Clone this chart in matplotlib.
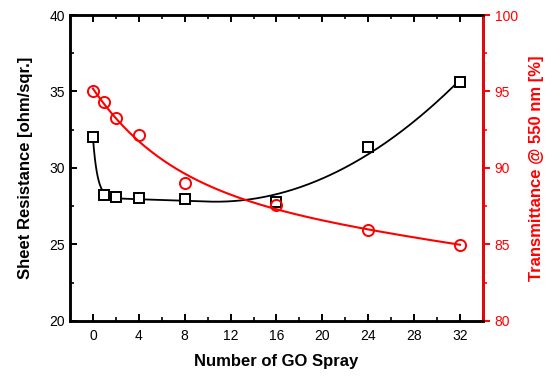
import numpy as np
import matplotlib
matplotlib.use('Agg')
import matplotlib.pyplot as plt
from matplotlib.ticker import MultipleLocator

plt.rcParams['font.family'] = ['Liberation Sans', 'DejaVu Sans']

# data
spray = [0, 1, 2, 4, 8, 16, 24, 32]
sheet_res = [32.0, 28.25, 28.1, 28.05, 27.95, 27.8, 31.4, 35.6]
transmit = [95.0, 94.3, 93.25, 92.15, 89.05, 87.6, 85.95, 84.95]

x = np.array(spray, dtype=float)
xs = np.linspace(0, 32, 400)

# regression spline for sheet resistance: fast decay + truncated quadratic
def basis_r(v):
    knot = np.clip(v - 10, 0, None)
    return np.column_stack([np.ones_like(v), np.exp(-v / 0.4), v, knot ** 2])
coef_r, *_ = np.linalg.lstsq(basis_r(x), np.array(sheet_res), rcond=None)
fit_r = basis_r(xs) @ coef_r

# decay + linear fit for transmittance (grid search on time constant)
best = None
for t in np.linspace(2, 80, 400):
    A = np.column_stack([np.ones_like(x), np.exp(-x / t), x])
    c, *_ = np.linalg.lstsq(A, np.array(transmit), rcond=None)
    err = np.sum((A @ c - transmit) ** 2)
    if best is None or err < best[0]:
        best = (err, t, c)
_, t_best, c_t = best
fit_t = c_t[0] + c_t[1] * np.exp(-xs / t_best) + c_t[2] * xs

fig = plt.figure(figsize=(5.48, 3.76), dpi=100)
ax = fig.add_axes([0.1277, 0.1463, 0.7537, 0.8138])
ax2 = ax.twinx()

ax.plot(xs, fit_r, color='black', lw=1.3)
ax.plot(spray, sheet_res, 's', ms=7, mfc='white', mec='black', mew=1.4, zorder=5)
ax2.plot(xs, fit_t, color='red', lw=1.5)
ax2.plot(spray, transmit, 'o', ms=8, mfc='none', mec='red', mew=1.4, zorder=5)

ax.set_xlim(-2, 34)
ax.set_ylim(20, 40)
ax2.set_ylim(80, 100)
ax.xaxis.set_major_locator(MultipleLocator(4))
ax.xaxis.set_minor_locator(MultipleLocator(2))
ax.yaxis.set_major_locator(MultipleLocator(5))
ax.yaxis.set_minor_locator(MultipleLocator(2.5))
ax2.yaxis.set_major_locator(MultipleLocator(5))
ax2.yaxis.set_minor_locator(MultipleLocator(2.5))

for s in ax.spines.values():
    s.set_linewidth(1.8)
for s in ax2.spines.values():
    s.set_linewidth(1.8)
ax2.spines['right'].set_color('red')

ax.tick_params(axis='x', which='both', direction='in', top=True, labelsize=10, pad=6)
ax.tick_params(axis='x', which='major', length=5, width=1.4)
ax.tick_params(axis='x', which='minor', length=3, width=1.2)
ax.tick_params(axis='y', which='both', direction='in', labelsize=10)
ax.tick_params(axis='y', which='major', length=5, width=1.4)
ax.tick_params(axis='y', which='minor', length=3, width=1.2)
ax2.tick_params(axis='y', which='both', direction='out', colors='red', labelsize=10)
ax2.tick_params(axis='y', which='major', length=5, width=1.4)
ax2.tick_params(axis='y', which='minor', length=3, width=1.2)

ax.set_xlabel('Number of GO Spray', fontsize=12, fontweight='bold', labelpad=8)
ax.set_ylabel('Sheet Resistance [ohm/sqr.]', fontsize=12, fontweight='bold', labelpad=12)
ax2.set_ylabel('Transmittance @ 550 nm [%]', fontsize=12, fontweight='bold', color='red', labelpad=8)

fig.savefig('out.png', dpi=100)
